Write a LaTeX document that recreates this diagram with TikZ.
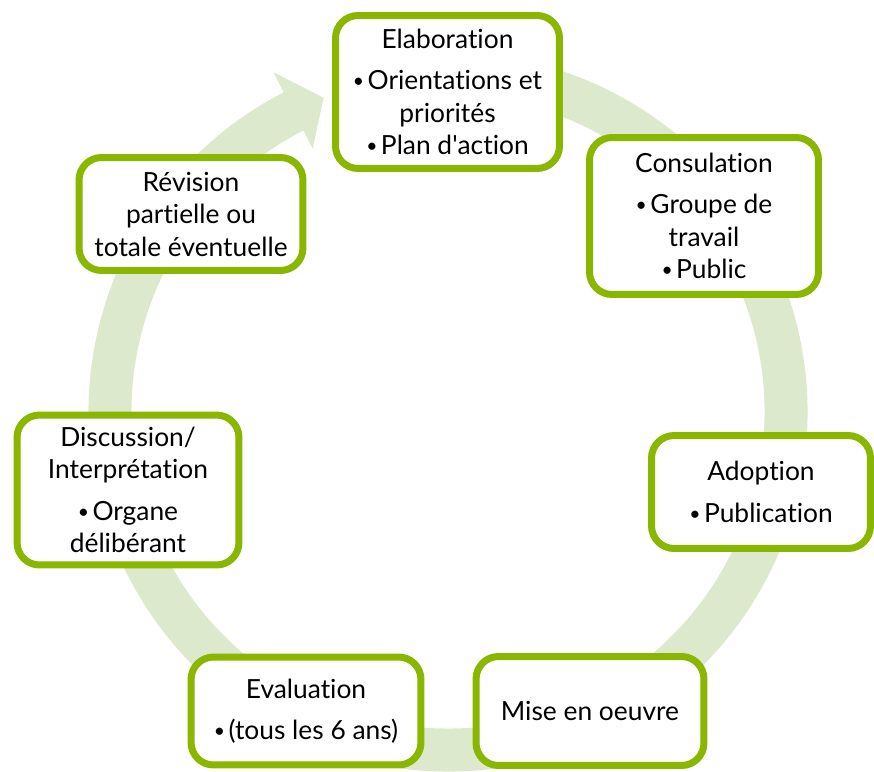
\documentclass[tikz,border=0pt]{standalone}
\usepackage{fontspec}
\setmainfont{Lato}[Ligatures={NoCommon}]
\usetikzlibrary{positioning, shadows}
\definecolor{stage-green}{RGB}{137,183,0}
\definecolor{ring-green}{RGB}{221,233,205}
\newcommand{\stagebullet}{\raisebox{0.15ex}{\fontsize{11}{11}\selectfont\textbullet}\hspace{2pt}}
\tikzstyle{stagebox} = [rectangle, draw=stage-green, fill=white, line width=0.14cm, rounded corners=0.45cm, align=center, inner sep=2pt, font=\fontsize{15}{18.5}\selectfont, drop shadow={opacity=0.18, shadow xshift=0.04cm, shadow yshift=-0.06cm}]
\tikzstyle{cyclearrow} = [fill=ring-green]

\begin{document}
\begin{tikzpicture}[x=0.02cm, y=0.02cm]
    \useasboundingbox (0,0) rectangle (874,771);

    % circular arrow behind the stages
    \begin{scope}[shift={(448,359)}]
        \fill[cyclearrow] (80:359.5) arc[start angle=80, end angle=-242.8, radius=359.5]
            -- (-242.8:382) -- (-248.4:338) -- (-242.8:296) -- (-242.8:316.5)
            arc[start angle=-242.8, end angle=80, radius=316.5] -- cycle;
    \end{scope}

    \node[stagebox, minimum width=4.48cm, minimum height=3.06cm] at (447.5, 679) (elaboration) {Elaboration\\[5pt] \stagebullet Orientations et\\ priorités\\ \stagebullet Plan d\textquotesingle action};
        \node[stagebox, minimum width=4.58cm, minimum height=3.14cm] at (704, 555) (consultation) {Consulation\\[5pt] \stagebullet Groupe de\\ travail\\ \stagebullet Public};
        \node[stagebox, minimum width=4.38cm, minimum height=2.26cm] at (761, 279) (adoption) {Adoption\\[5pt] \stagebullet Publication};
        \node[stagebox, minimum width=4.56cm, minimum height=2.18cm] at (590, 60) (miseoeuvre) {Mise en oeuvre};
        \node[stagebox, minimum width=4.6cm, minimum height=2.16cm] at (306, 60) (evaluation) {Evaluation\\[5pt] \stagebullet(tous les 6 ans)};
        \node[stagebox, minimum width=4.44cm, minimum height=3.0cm] at (128, 281) (discussion) {Discussion/\\ Interprétation\\[5pt] \stagebullet Organe\\ délibérant};
    \node[stagebox, minimum width=4.48cm, minimum height=2.26cm] at (191, 557) (revision) {Révision\\ partielle ou\\ totale éventuelle};
\end{tikzpicture}
\end{document}
